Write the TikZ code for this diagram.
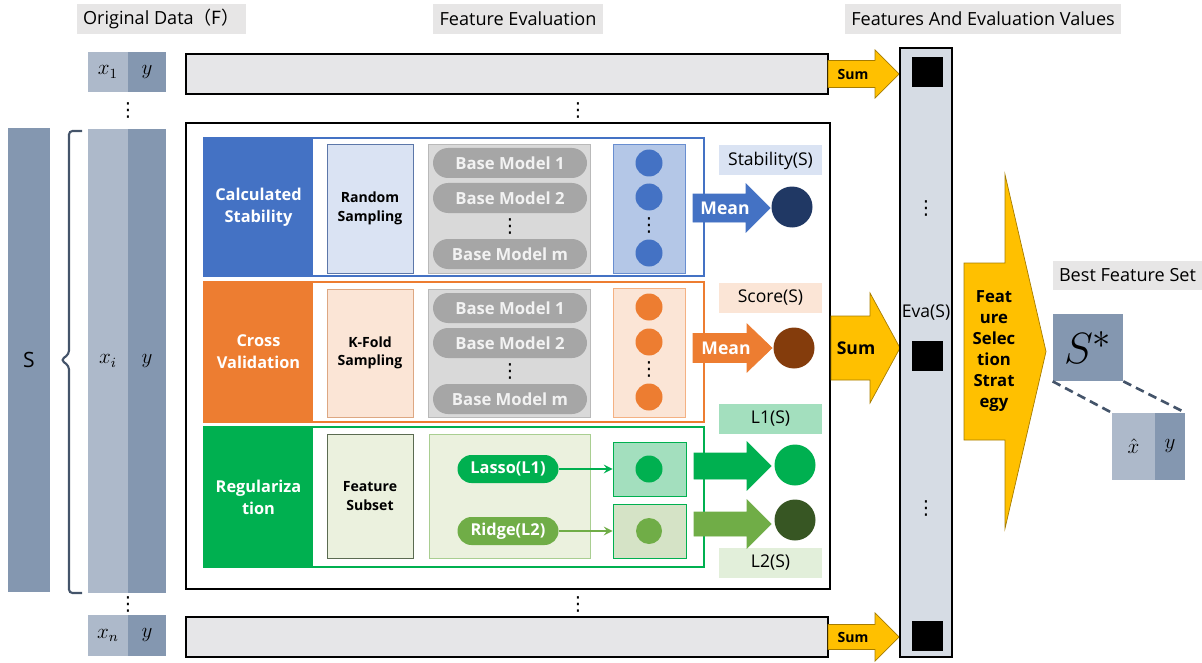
\documentclass[tikz,border=0pt]{standalone}
\usepackage{fontspec}
\setmainfont{Open Sans}
\newfontfamily\cjk{Noto Sans CJK SC}
\newfontfamily\symfont{DejaVu Sans}
\usetikzlibrary{shapes,arrows,positioning,calc}

\newlength\pxu
\setlength\pxu{0.02cm}

\definecolor{slate}{HTML}{8497B0}
\definecolor{slatelight}{HTML}{ADB9CA}
\definecolor{slatedark}{HTML}{44546A}
\definecolor{hdrgray}{HTML}{E7E6E6}
\definecolor{bargray}{HTML}{E6E6E8}
\definecolor{boxgray}{HTML}{D9D9D9}
\definecolor{modelgray}{HTML}{A6A6A6}
\definecolor{stabblue}{HTML}{4472C4}
\definecolor{stablight}{HTML}{DAE3F3}
\definecolor{stabmid}{HTML}{B4C7E7}
\definecolor{stabnavy}{HTML}{203864}
\definecolor{cvorange}{HTML}{ED7D31}
\definecolor{cvlight}{HTML}{FBE5D6}
\definecolor{cvmid}{HTML}{F4B183}
\definecolor{cvbrown}{HTML}{843C0C}
\definecolor{reggreen}{HTML}{00B050}
\definecolor{regleaf}{HTML}{70AD47}
\definecolor{regdark}{HTML}{375623}
\definecolor{reglight}{HTML}{EBF1DE}
\definecolor{regpale}{HTML}{E2EFDA}
\definecolor{regmint}{HTML}{A3DFBE}
\definecolor{regsage}{HTML}{D5E3C6}
\definecolor{evafill}{HTML}{D6DCE4}
\definecolor{sumyellow}{HTML}{FFC000}
\definecolor{sumedge}{HTML}{A67C00}

\tikzstyle{hdr} = [rectangle, fill=hdrgray, inner sep=0pt, minimum height=30\pxu, font=\fontsize{10.3}{12}\selectfont]
\tikzstyle{col} = [rectangle, inner sep=0pt, font=\fontsize{12}{14}\selectfont]
\tikzstyle{bar} = [rectangle, draw=black, fill=bargray, line width=1.5pt, inner sep=0pt, minimum width=642\pxu, minimum height=40\pxu]
\tikzstyle{rowbox} = [rectangle, fill=white, line width=1.2pt, inner sep=0pt, minimum width=500\pxu, minimum height=140\pxu]
\tikzstyle{rowlabel} = [rectangle, inner sep=0pt, text=white, font=\bfseries\fontsize{9.3}{12.5}\selectfont, align=center, minimum width=109\pxu, minimum height=140\pxu]
\tikzstyle{sampler} = [rectangle, inner sep=0pt, minimum width=86\pxu, font=\bfseries\fontsize{8}{10.5}\selectfont, align=center]
\tikzstyle{modelbox} = [rectangle, draw=gray!55, fill=boxgray, inner sep=0pt, minimum width=162\pxu]
\tikzstyle{basemodel} = [rounded rectangle, fill=modelgray, text=white!90!gray, inner sep=0pt, minimum width=154\pxu, minimum height=30\pxu, font=\bfseries\fontsize{9.5}{11}\selectfont]
\tikzstyle{dotbox} = [rectangle, inner sep=0pt, minimum width=72\pxu]
\tikzstyle{dot} = [circle, inner sep=0pt, minimum size=27\pxu]
\tikzstyle{result} = [circle, inner sep=0pt, minimum size=41\pxu]
\tikzstyle{tag} = [rectangle, inner sep=0pt, minimum width=103\pxu, minimum height=30\pxu, font=\fontsize{10}{12}\selectfont]
\tikzstyle{pill} = [rounded rectangle, inner sep=0pt, text=white, minimum width=101\pxu, minimum height=28\pxu, font=\bfseries\fontsize{9.3}{11}\selectfont]
\tikzstyle{evabox} = [rectangle, fill=black, inner sep=0pt, minimum width=31\pxu, minimum height=30\pxu]
\tikzstyle{vdots} = [inner sep=0pt, text height=0.72em, text depth=0pt, font=\symfont\fontsize{11}{11}\selectfont]
\tikzstyle{arrtext} = [inner sep=0pt, font=\bfseries\fontsize{10}{12}\selectfont]
\tikzstyle{thinarrow} = [line width=1.2pt, ->, >=stealth]

% block arrow: style, x start, x head, x tip, y centre, half shaft, half head
\newcommand{\blockarrow}[7]{\filldraw[#1] (#2,#5-#6) -- (#3,#5-#6) -- (#3,#5-#7) -- (#4,#5) -- (#3,#5+#7) -- (#3,#5+#6) -- (#2,#5+#6) -- cycle;}

\begin{document}
\begin{tikzpicture}[x=0.02cm, y=-0.02cm]
\useasboundingbox (0,0) rectangle (1202,662);

% KOPFZEILEN
\node (horig) [hdr, minimum width=169\pxu] at (161.5,19) {Original Data{\cjk（F）}};
\node (heval) [hdr, minimum width=170\pxu] at (518,19) {Feature Evaluation};
\node (hvals) [hdr, minimum width=276\pxu] at (983,19) {Features And Evaluation Values};
\node (hbest) [hdr, minimum width=149\pxu, minimum height=29\pxu] at (1127.5,275.5) {Best Feature Set};

% ORIGINALDATEN
\node (sbar) [col, fill=slate, minimum width=42\pxu, minimum height=464\pxu] at (29,360) {S};
\node (xi) [col, fill=slatelight, minimum width=40\pxu, minimum height=464\pxu] at (108,361) {$x_i$};
\node (yi) [col, fill=slate, minimum width=38\pxu, minimum height=464\pxu] at (147,361) {$y$};
\node (x1) [col, fill=slatelight, minimum width=40\pxu, minimum height=40\pxu] at (108,72) {$x_1$};
\node (y1) [col, fill=slate, minimum width=38\pxu, minimum height=40\pxu] at (147,72) {$y$};
\node (xn) [col, fill=slatelight, minimum width=40\pxu, minimum height=41\pxu] at (108,635.5) {$x_n$};
\node (yn) [col, fill=slate, minimum width=38\pxu, minimum height=41\pxu] at (147,635.5) {$y$};
\node (vd1) [vdots] at (128,110) {⋮};
\node (vd2) [vdots] at (128,604) {⋮};
\draw [slatedark, line width=1.2pt, rounded corners=2pt] (82,131) -- (69,131) -- (69,354) -- (61,360) -- (69,366) -- (69,593) -- (82,593);

% FEATURE-BALKEN
\node (topbar) [bar] at (507,74) {};
\node (botbar) [bar] at (507,637) {};
\node (vd3) [vdots] at (578,110) {⋮};
\node (vd4) [vdots] at (578,604) {⋮};
\node (mainbox) [rectangle, draw=black, fill=white, line width=1.6pt, minimum width=644\pxu, minimum height=466\pxu] at (508,356) {};

% ZEILE 1 - Stabilitaet
\node (stabrow) [rowbox, draw=stabblue, minimum height=138\pxu] at (454,207) {};
\node (stablab) [rowlabel, fill=stabblue, minimum height=138\pxu] at (258.5,207) {Calculated\\Stability};
\node (rs) [sampler, fill=stablight, draw=stabblue!60!gray, minimum height=129\pxu] at (370,208.5) {Random\\Sampling};
\node (stabmodels) [modelbox, minimum height=129\pxu] at (509,208.5) {};
\node (sbm1) [basemodel] at (510,163) {Base Model 1};
\node (sbm2) [basemodel] at (510,198) {Base Model 2};
\node (sbmd) [vdots] at (510,226) {⋮};
\node (sbmm) [basemodel] at (510,254) {Base Model m};
\node (stabdots) [dotbox, fill=stabmid, draw=stabblue!80, minimum height=129\pxu] at (649,208.5) {};
\node (sd1) [dot, fill=stabblue] at (649,163) {};
\node (sd2) [dot, fill=stabblue] at (649,197) {};
\node (sdd) [vdots] at (649,225) {⋮};
\node (sdm) [dot, fill=stabblue] at (649,253) {};
\node (stabtag) [tag, fill=stablight] at (770.5,160.5) {Stability(S)};
\node (stabres) [result, fill=stabnavy] at (792,207) {};
\blockarrow{stabblue}{693}{746}{770}{208}{14}{24}
\node (stabmean) [arrtext, text=white] at (725,208) {Mean};

% ZEILE 2 - Kreuzvalidierung
\node (cvrow) [rowbox, draw=cvorange] at (454,352) {};
\node (cvlab) [rowlabel, fill=cvorange] at (258.5,352) {Cross\\Validation};
\node (kf) [sampler, fill=cvlight, draw=cvmid!80!gray, minimum height=128\pxu] at (370,353) {K-Fold\\Sampling};
\node (cvmodels) [modelbox, minimum height=128\pxu] at (509,353) {};
\node (cbm1) [basemodel] at (510,308) {Base Model 1};
\node (cbm2) [basemodel] at (510,343) {Base Model 2};
\node (cbmd) [vdots] at (510,371) {⋮};
\node (cbmm) [basemodel] at (510,399) {Base Model m};
\node (cvdots) [dotbox, fill=cvlight, draw=cvmid, minimum height=129\pxu] at (649.5,352.5) {};
\node (cd1) [dot, fill=cvorange] at (649,307) {};
\node (cd2) [dot, fill=cvorange] at (649,342) {};
\node (cdd) [vdots] at (649,369) {⋮};
\node (cdm) [dot, fill=cvorange] at (649,397) {};
\node (cvtag) [tag, fill=cvlight] at (770.5,298) {Score(S)};
\node (cvres) [result, fill=cvbrown] at (794,348) {};
\blockarrow{cvorange}{693}{747}{772}{348}{14.5}{24}
\node (cvmean) [arrtext, text=white] at (726,348) {Mean};

% ZEILE 3 - Regularisierung
\node (regrow) [rowbox, draw=reggreen] at (454,497) {};
\node (reglab) [rowlabel, fill=reggreen] at (258.5,497) {Regulariza\\tion};
\node (fs) [sampler, fill=reglight, draw=regdark!50!gray, minimum height=124\pxu] at (370,496) {Feature\\Subset};
\node (regmodels) [rectangle, fill=reglight, draw=regleaf!60, inner sep=0pt, minimum width=161\pxu, minimum height=124\pxu] at (509.5,496) {};
\node (lasso) [pill, fill=reggreen] at (508,469) {Lasso(L1)};
\node (ridge) [pill, fill=regleaf] at (508,531) {Ridge(L2)};
\node (l1box) [dotbox, fill=regmint, draw=reggreen, minimum width=73\pxu, minimum height=54\pxu] at (649.5,469) {};
\node (l2box) [dotbox, fill=regsage, draw=reggreen, minimum width=73\pxu, minimum height=54\pxu] at (649.5,531) {};
\node (l1dot) [dot, fill=reggreen] at (649,469) {};
\node (l2dot) [dot, fill=regleaf, minimum size=26\pxu] at (649,531) {};
\draw [thinarrow, reggreen] (lasso.east) -- (l1box.west);
\draw [thinarrow, regleaf] (ridge.east) -- (l2box.west);
\node (l1tag) [tag, fill=regmint] at (770.5,419) {L1(S)};
\node (l2tag) [tag, fill=regpale] at (770.5,563) {L2(S)};
\blockarrow{reggreen}{694}{747}{771}{466}{13}{24}
\blockarrow{regleaf}{694}{747}{771}{524}{12}{24}
\node (l1res) [result, fill=reggreen] at (795,465) {};
\node (l2res) [result, fill=regdark] at (795,520) {};

% SUMMEN-PFEILE
\blockarrow{fill=sumyellow, draw=sumedge, line width=0.4pt}{828}{875}{899}{74}{13.5}{24}
\blockarrow{fill=sumyellow, draw=sumedge, line width=0.4pt}{831}{870}{900}{348}{32}{55}
\blockarrow{fill=sumyellow, draw=sumedge, line width=0.4pt}{828}{875}{899}{637}{12.5}{24}
\node (sumtop) [arrtext, font=\bfseries\fontsize{8}{10}\selectfont] at (853,74) {Sum};
\node (summid) [arrtext] at (856,348) {Sum};
\node (sumbot) [arrtext, font=\bfseries\fontsize{8}{10}\selectfont] at (853,637) {Sum};

% BEWERTUNGSSPALTE
\node (eva) [rectangle, draw=black, fill=evafill, line width=1.2pt, inner sep=0pt, minimum width=52\pxu, minimum height=609\pxu] at (926,352.5) {};
\node (evatop) [evabox] at (927.5,72) {};
\node (evamid) [evabox] at (927.5,355.5) {};
\node (evabot) [evabox] at (927.5,635.5) {};
\node (evad1) [vdots] at (926,208) {⋮};
\node (evad2) [vdots] at (926,508) {⋮};
\node (evalab) [inner sep=0pt, font=\fontsize{10}{12}\selectfont] at (926,313) {Eva(S)};

% AUSWAHLSTRATEGIE
\blockarrow{fill=sumyellow, draw=sumedge, line width=0.4pt}{964}{1005}{1046}{351.5}{88.5}{177}
\node (fss) [align=center, inner sep=0pt, font=\bfseries\fontsize{9.5}{12}\selectfont] at (994,351) {Feat\\ure\\Selec\\tion\\Strat\\egy};

% BESTE MERKMALSMENGE
\node (sstar) [rectangle, fill=slate, inner sep=0pt, minimum width=70\pxu, minimum height=67\pxu, font=\fontsize{30}{32}\selectfont] at (1088,347.5) {$S^{*}$};
\node (xhat) [col, fill=slatelight, minimum width=43\pxu, minimum height=67\pxu] at (1133.5,446.5) {$\hat{x}$};
\node (yhat) [col, fill=slate, minimum width=30\pxu, minimum height=67\pxu] at (1170,446.5) {$y$};
\draw [slatedark, dashed, line width=1.5pt, dash pattern=on 5pt off 3pt] (sstar.south west) -- (xhat.north west);
\draw [slatedark, dashed, line width=1.5pt, dash pattern=on 5pt off 3pt] (sstar.south east) -- (yhat.north east);

\end{tikzpicture}
\end{document}
